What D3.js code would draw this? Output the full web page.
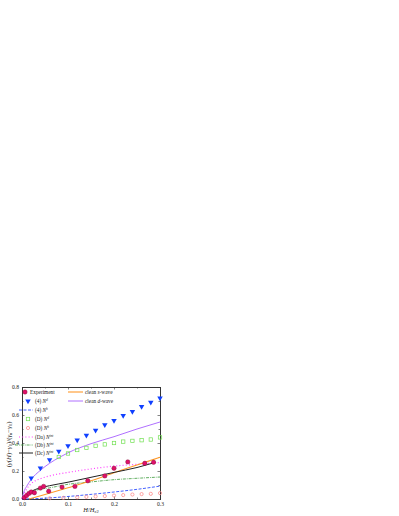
<!DOCTYPE html>
<html>
<head>
<meta charset="utf-8">
<script src="https://cdn.jsdelivr.net/npm/d3@7"></script>
<style>
  body { margin: 0; background: #fff; }
  text { font-family: "Liberation Serif", "DejaVu Serif", serif; }
</style>
</head>
<body>
<svg id="chart" width="399" height="516"></svg>
<script>
// tick values
const xTicks = [0, 0.1, 0.2, 0.3];
const xMinor = [0.05, 0.15, 0.25];
const yTicks = [0, 0.2, 0.4, 0.6, 0.8];
const yMinor = [0.1, 0.3, 0.5, 0.7];

// Experiment (filled circles)
const expX = [0.005, 0.01, 0.015, 0.02, 0.027, 0.04, 0.047, 0.058, 0.087, 0.115, 0.143, 0.18, 0.2, 0.23, 0.267, 0.286];
const expY = [0.01, 0.025, 0.04, 0.05, 0.045, 0.078, 0.09, 0.055, 0.085, 0.09, 0.13, 0.165, 0.22, 0.265, 0.255, 0.262];

// (4) N^d  (filled down triangles)
const nd4X = [0.02, 0.04, 0.06, 0.08, 0.1, 0.12, 0.14, 0.16, 0.18, 0.2, 0.22, 0.24, 0.26, 0.28, 0.3];
const nd4Y = [0.15, 0.22, 0.28, 0.34, 0.38, 0.42, 0.455, 0.49, 0.53, 0.56, 0.595, 0.625, 0.66, 0.69, 0.72];

// (D) N^d (open squares)
const ndDX = [0.08, 0.1, 0.12, 0.14, 0.16, 0.18, 0.2, 0.22, 0.24, 0.26, 0.28, 0.3];
const ndDY = [0.3, 0.325, 0.35, 0.365, 0.38, 0.39, 0.4, 0.41, 0.415, 0.42, 0.425, 0.44];

// (D) N^h (open circles)
const nhDX = [0.06, 0.09, 0.12, 0.14, 0.16, 0.18, 0.2, 0.22, 0.24, 0.26, 0.28, 0.3];
const nhDY = [0.005, 0.008, 0.012, 0.015, 0.018, 0.021, 0.025, 0.028, 0.032, 0.035, 0.037, 0.042];

// (4) N^h (dashed)
const nh4X = [0, 0.05, 0.1, 0.15, 0.2, 0.25, 0.3];
const nh4Y = [0, 0.006, 0.018, 0.033, 0.05, 0.069, 0.092];

// (Da) N^int (dotted)
const daX = [0, 0.005, 0.01, 0.02, 0.04, 0.06, 0.1, 0.15, 0.2, 0.25, 0.3];
const daY = [0, 0.04, 0.07, 0.11, 0.145, 0.165, 0.19, 0.215, 0.235, 0.248, 0.26];

// (Db) N^int (dash-dot)
const dbX = [0, 0.01, 0.02, 0.04, 0.06, 0.1, 0.15, 0.2, 0.25, 0.3];
const dbY = [0, 0.03, 0.05, 0.07, 0.08, 0.105, 0.122, 0.138, 0.148, 0.157];

// (Dc) N^int (solid black)
const dcX = [0, 0.005, 0.01, 0.02, 0.04, 0.06, 0.1, 0.15, 0.2, 0.25, 0.29];
const dcY = [0, 0.02, 0.035, 0.055, 0.08, 0.095, 0.12, 0.155, 0.19, 0.225, 0.262];

// clean s-wave
const swX = [0.015, 0.05, 0.1, 0.15, 0.2, 0.25, 0.3];
const swY = [0, 0.032, 0.08, 0.13, 0.188, 0.243, 0.298];

// clean d-wave
const dwX = [0, 0.005, 0.01, 0.02, 0.04, 0.06, 0.08, 0.1, 0.15, 0.2, 0.25, 0.3];
const dwY = [0, 0.06, 0.09, 0.14, 0.205, 0.255, 0.295, 0.33, 0.395, 0.445, 0.5, 0.55];

const svg = d3.select('#chart');

const plotLeft = 22, plotRight = 160, plotTop = 387, plotBottom = 499;

const x = d3.scaleLinear().domain([0, 0.3]).range([plotLeft, plotRight]);
const y = d3.scaleLinear().domain([0, 0.8]).range([plotBottom, plotTop]);

const zip = (a, b) => a.map((v, i) => [v, b[i]]);

// axes, ticks pointing in
svg.append('g')
    .attr('transform', `translate(0,${plotBottom})`)
    .call(d3.axisBottom(x).tickValues(xTicks).tickSize(-2.5).tickPadding(3.5).tickFormat(d3.format('.1f')));
svg.append('g')
    .attr('transform', `translate(0,${plotBottom})`)
    .call(d3.axisBottom(x).tickValues(xMinor).tickSize(-1.5).tickFormat(''));
svg.append('g')
    .attr('transform', `translate(0,${plotTop})`)
    .call(d3.axisTop(x).tickValues(xTicks).tickSize(-2.5).tickFormat(''));
svg.append('g')
    .attr('transform', `translate(0,${plotTop})`)
    .call(d3.axisTop(x).tickValues(xMinor).tickSize(-1.5).tickFormat(''));

svg.append('g')
    .attr('transform', `translate(${plotLeft},0)`)
    .call(d3.axisLeft(y).tickValues(yTicks).tickSize(-2.5).tickPadding(3).tickFormat(d3.format('.1f')));
svg.append('g')
    .attr('transform', `translate(${plotLeft},0)`)
    .call(d3.axisLeft(y).tickValues(yMinor).tickSize(-1.5).tickFormat(''));
svg.append('g')
    .attr('transform', `translate(${plotRight},0)`)
    .call(d3.axisRight(y).tickValues(yTicks).tickSize(-2.5).tickFormat(''));
svg.append('g')
    .attr('transform', `translate(${plotRight},0)`)
    .call(d3.axisRight(y).tickValues(yMinor).tickSize(-1.5).tickFormat(''));

svg.selectAll('.domain').attr('stroke', '#333').attr('stroke-width', 0.9);
svg.selectAll('.tick line').attr('stroke', '#333').attr('stroke-width', 0.6);
svg.selectAll('.tick text')
    .attr('font-family', '"Liberation Serif", serif')
    .attr('font-size', 5.6)
    .attr('fill', '#222');

// curves
const line = d3.line().x(d => x(d[0])).y(d => y(d[1])).curve(d3.curveMonotoneX);

const curves = [
    {data: zip(dbX, dbY), color: '#3a9a3a', dash: '3,1,0.8,1', w: 0.8},
    {data: zip(nh4X, nh4Y), color: '#3050ff', dash: '3,1.5', w: 0.9},
    {data: zip(daX, daY), color: '#ff40ff', dash: '1,2.2', w: 1.2},
    {data: zip(dwX, dwY), color: '#b070ff', dash: null, w: 1},
    {data: zip(swX, swY), color: '#ff9a2a', dash: null, w: 1.1},
    {data: zip(dcX, dcY), color: '#222', dash: null, w: 1}
];

svg.append('g')
    .selectAll('path')
    .data(curves)
    .join('path')
    .attr('d', d => line(d.data))
    .attr('fill', 'none')
    .attr('stroke', d => d.color)
    .attr('stroke-width', d => d.w)
    .attr('stroke-dasharray', d => d.dash);

// markers
const tri = d3.symbol().type(d3.symbolTriangle).size(13);

svg.append('g')
    .selectAll('circle')
    .data(zip(nhDX, nhDY))
    .join('circle')
    .attr('cx', d => x(d[0]))
    .attr('cy', d => y(d[1]))
    .attr('r', 1.6)
    .attr('fill', 'none')
    .attr('stroke', '#ff8080')
    .attr('stroke-width', 0.7);

svg.append('g')
    .selectAll('rect')
    .data(zip(ndDX, ndDY))
    .join('rect')
    .attr('x', d => x(d[0]) - 1.7)
    .attr('y', d => y(d[1]) - 1.7)
    .attr('width', 3.4)
    .attr('height', 3.4)
    .attr('fill', 'none')
    .attr('stroke', '#70e050')
    .attr('stroke-width', 0.7);

svg.append('g')
    .selectAll('path')
    .data(zip(nd4X, nd4Y))
    .join('path')
    .attr('d', tri)
    .attr('transform', d => `translate(${x(d[0])},${y(d[1])}) rotate(180)`)
    .attr('fill', '#1040ff');

svg.append('g')
    .selectAll('circle')
    .data(zip(expX, expY))
    .join('circle')
    .attr('cx', d => x(d[0]))
    .attr('cy', d => y(d[1]))
    .attr('r', 2.2)
    .attr('fill', '#e0106a')
    .attr('stroke', '#7a0a30')
    .attr('stroke-width', 0.4);

// legend
const lg = svg.append('g').attr('fill', '#222');
const rows = [392, 401, 410, 419, 428, 437, 445, 453];

function label(g, tx, ty, pre, sup) {
    let t = g.append('text').attr('x', tx).attr('y', ty + 1.8).attr('font-size', 5.3);
    t.append('tspan').text(pre);
    if (sup) {
        t.append('tspan').attr('font-style', 'italic').text('N');
        t.append('tspan').attr('font-size', 3.5).attr('dy', -1.9).attr('font-style', 'italic').text(sup);
    }
    return t;
}

lg.append('circle').attr('cx', 25).attr('cy', rows[0]).attr('r', 2.2)
    .attr('fill', '#e0106a').attr('stroke', '#7a0a30').attr('stroke-width', 0.4);
label(lg, 30, rows[0], 'Experiment');

lg.append('path').attr('d', tri).attr('transform', `translate(28,${rows[1]}) rotate(180)`).attr('fill', '#1040ff');
label(lg, 35, rows[1], '(4) ', 'd');

lg.append('line').attr('x1', 19).attr('x2', 33).attr('y1', rows[2]).attr('y2', rows[2])
    .attr('stroke', '#3050ff').attr('stroke-width', 0.9).attr('stroke-dasharray', '3,1.5');
label(lg, 35, rows[2], '(4) ', 'h');

lg.append('rect').attr('x', 26.3).attr('y', rows[3] - 1.7).attr('width', 3.4).attr('height', 3.4)
    .attr('fill', 'none').attr('stroke', '#70e050').attr('stroke-width', 0.7);
label(lg, 35, rows[3], '(D) ', 'd');

lg.append('circle').attr('cx', 28).attr('cy', rows[4]).attr('r', 1.6)
    .attr('fill', 'none').attr('stroke', '#ff8080').attr('stroke-width', 0.7);
label(lg, 35, rows[4], '(D) ', 'h');

lg.append('line').attr('x1', 19).attr('x2', 33).attr('y1', rows[5]).attr('y2', rows[5])
    .attr('stroke', '#ff40ff').attr('stroke-width', 1.2).attr('stroke-dasharray', '1,2.2');
label(lg, 35, rows[5], '(Da) ', 'int');

lg.append('line').attr('x1', 15).attr('x2', 33).attr('y1', rows[6]).attr('y2', rows[6])
    .attr('stroke', '#3a9a3a').attr('stroke-width', 0.8).attr('stroke-dasharray', '3,1,0.8,1');
label(lg, 35, rows[6], '(Db) ', 'int');

lg.append('line').attr('x1', 19).attr('x2', 33).attr('y1', rows[7]).attr('y2', rows[7])
    .attr('stroke', '#222').attr('stroke-width', 1);
label(lg, 35, rows[7], '(Dc) ', 'int');

lg.append('line').attr('x1', 68).attr('x2', 83).attr('y1', rows[0]).attr('y2', rows[0])
    .attr('stroke', '#ff9a2a').attr('stroke-width', 1.1);
let ts = lg.append('text').attr('x', 85).attr('y', rows[0] + 1.8).attr('font-size', 5.3);
ts.append('tspan').text('clean ');
ts.append('tspan').attr('font-style', 'italic').text('s');
ts.append('tspan').text('-wave');

lg.append('line').attr('x1', 68).attr('x2', 83).attr('y1', rows[1]).attr('y2', rows[1])
    .attr('stroke', '#b070ff').attr('stroke-width', 1);
let td = lg.append('text').attr('x', 85).attr('y', rows[1] + 1.8).attr('font-size', 5.3);
td.append('tspan').text('clean ');
td.append('tspan').attr('font-style', 'italic').text('d');
td.append('tspan').text('-wave');

// axis titles
let xt = svg.append('text')
    .attr('x', x(0.15))
    .attr('y', 512)
    .attr('text-anchor', 'middle')
    .attr('font-size', 6.5)
    .attr('fill', '#222');
xt.append('tspan').attr('font-style', 'italic').text('H');
xt.append('tspan').text('/');
xt.append('tspan').attr('font-style', 'italic').text('H');
xt.append('tspan').attr('font-size', 4.5).attr('dy', 1.4).text('c2');

let yt = svg.append('text')
    .attr('transform', `translate(11,${y(0.39)}) rotate(-90)`)
    .attr('text-anchor', 'middle')
    .attr('font-size', 6.8)
    .attr('fill', '#222');
yt.append('tspan').text('(');
yt.append('tspan').attr('font-style', 'italic').text('γ');
yt.append('tspan').text('(');
yt.append('tspan').attr('font-style', 'italic').text('H');
yt.append('tspan').text(')−');
yt.append('tspan').attr('font-style', 'italic').text('γ');
yt.append('tspan').attr('font-size', 4.5).attr('dy', 1.4).text('0');
yt.append('tspan').attr('dy', -1.4).text(')/(');
yt.append('tspan').attr('font-style', 'italic').text('γ');
yt.append('tspan').attr('font-size', 4.5).attr('dy', 1.4).text('n');
yt.append('tspan').attr('dy', -1.4).text('−');
yt.append('tspan').attr('font-style', 'italic').text('γ');
yt.append('tspan').attr('font-size', 4.5).attr('dy', 1.4).text('0');
yt.append('tspan').attr('dy', -1.4).text(')');
</script>
</body>
</html>
